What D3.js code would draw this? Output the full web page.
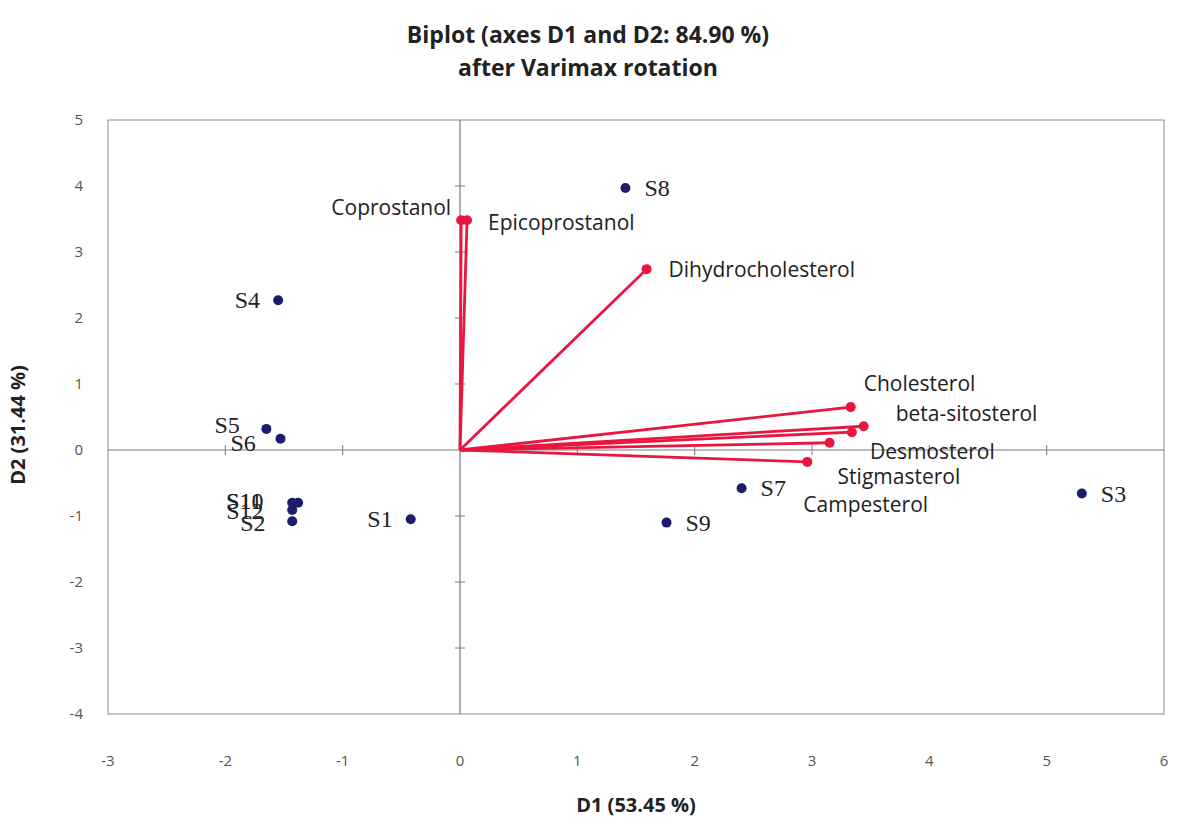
<!DOCTYPE html>
<html>
<head>
<meta charset="utf-8">
<script src="https://cdn.jsdelivr.net/npm/d3@7"></script>
<style>
  body { margin: 0; background: #fff; }
  svg { display: block; }
  .tick-label { font-family: "Open Sans", Lato, sans-serif; font-size: 15px; fill: #555; }
  .axis-title { font-family: "Open Sans", Lato, sans-serif; font-size: 20px; font-weight: bold; fill: #222; }
  .title { font-family: "Open Sans", Lato, sans-serif; font-size: 23px; font-weight: bold; fill: #222; }
  .obs-label { font-family: "Liberation Serif", serif; font-size: 24px; fill: #222; }
  .var-label { font-family: "Open Sans", Lato, sans-serif; font-size: 21px; fill: #222; }
</style>
</head>
<body>
<div id="chart"></div>
<script>
// observations (factor scores)
var obsNames = ["S1", "S2", "S3", "S4", "S5", "S6", "S7", "S8", "S9", "S10", "S11", "S12"];
var obsD1 = [-0.42, -1.43, 5.30, -1.55, -1.65, -1.53, 2.40, 1.41, 1.76, -1.43, -1.38, -1.43];
var obsD2 = [-1.05, -1.08, -0.66, 2.27, 0.32, 0.17, -0.58, 3.97, -1.10, -0.80, -0.80, -0.91];

// variables (loadings, scaled)
var varNames = ["Coprostanol", "Epicoprostanol", "Dihydrocholesterol", "Cholesterol",
                "beta-sitosterol", "Desmosterol", "Stigmasterol", "Campesterol"];
var varD1 = [0.01, 0.06, 1.59, 3.33, 3.44, 3.34, 3.15, 2.96];
var varD2 = [3.48, 3.48, 2.74, 0.65, 0.36, 0.27, 0.11, -0.18];

var xTicks = [-3, -2, -1, 0, 1, 2, 3, 4, 5, 6];
var yTicks = [-4, -3, -2, -1, 0, 1, 2, 3, 4, 5];

var width = 1181, height = 826;
var margin = {top: 120, right: 17, bottom: 112, left: 108};

var svg = d3.select("#chart").append("svg")
    .attr("width", width)
    .attr("height", height);

var x = d3.scaleLinear().domain([-3, 6]).range([margin.left, width - margin.right]);
var y = d3.scaleLinear().domain([-4, 5]).range([height - margin.bottom, margin.top]);

// title
svg.append("text").attr("class", "title")
    .attr("x", 588).attr("y", 43).attr("text-anchor", "middle")
    .text("Biplot (axes D1 and D2: 84.90 %)");
svg.append("text").attr("class", "title")
    .attr("x", 588).attr("y", 76).attr("text-anchor", "middle")
    .text("after Varimax rotation");

// plot frame
svg.append("rect")
    .attr("x", x(-3)).attr("y", y(5))
    .attr("width", x(6) - x(-3)).attr("height", y(-4) - y(5))
    .attr("fill", "none").attr("stroke", "#8c8c8c").attr("stroke-width", 1);

// zero lines
svg.append("line")
    .attr("x1", x(-3)).attr("x2", x(6)).attr("y1", y(0)).attr("y2", y(0))
    .attr("stroke", "#7a7a7a").attr("stroke-width", 1.2);
svg.append("line")
    .attr("x1", x(0)).attr("x2", x(0)).attr("y1", y(5)).attr("y2", y(-4))
    .attr("stroke", "#7a7a7a").attr("stroke-width", 1.2);

// little ticks on the zero lines
svg.append("g").selectAll("line")
    .data(xTicks.filter(function(d) { return d > -3 && d < 6 && d !== 0; }))
    .enter().append("line")
    .attr("x1", function(d) { return x(d); }).attr("x2", function(d) { return x(d); })
    .attr("y1", y(0) - 5).attr("y2", y(0) + 5)
    .attr("stroke", "#7a7a7a");
svg.append("g").selectAll("line")
    .data(yTicks.filter(function(d) { return d > -4 && d < 5 && d !== 0; }))
    .enter().append("line")
    .attr("x1", x(0) - 5).attr("x2", x(0) + 5)
    .attr("y1", function(d) { return y(d); }).attr("y2", function(d) { return y(d); })
    .attr("stroke", "#7a7a7a");

// tick labels
svg.append("g").selectAll("text")
    .data(xTicks).enter().append("text")
    .attr("class", "tick-label")
    .attr("x", function(d) { return x(d); })
    .attr("y", y(-4) + 52)
    .attr("text-anchor", "middle")
    .text(function(d) { return d; });
svg.append("g").selectAll("text")
    .data(yTicks).enter().append("text")
    .attr("class", "tick-label")
    .attr("x", 83)
    .attr("y", function(d) { return y(d) + 5; })
    .attr("text-anchor", "end")
    .text(function(d) { return d; });

// axis titles
svg.append("text").attr("class", "axis-title")
    .attr("x", (x(-3) + x(6)) / 2).attr("y", 812)
    .attr("text-anchor", "middle")
    .text("D1 (53.45 %)");
svg.append("text").attr("class", "axis-title")
    .attr("transform", "translate(25," + ((y(5) + y(-4)) / 2 + 8) + ") rotate(-90)")
    .attr("text-anchor", "middle")
    .text("D2 (31.44 %)");

// vectors
var vars = varNames.map(function(n, i) { return {name: n, d1: varD1[i], d2: varD2[i]}; });
var red = "#e8173f";

svg.append("g").selectAll("line")
    .data(vars).enter().append("line")
    .attr("x1", x(0)).attr("y1", y(0))
    .attr("x2", function(d) { return x(d.d1); })
    .attr("y2", function(d) { return y(d.d2); })
    .attr("stroke", red).attr("stroke-width", 2.8);
svg.append("g").selectAll("circle")
    .data(vars).enter().append("circle")
    .attr("cx", function(d) { return x(d.d1); })
    .attr("cy", function(d) { return y(d.d2); })
    .attr("r", 5)
    .attr("fill", red);

// label nudges (px) for the variable names
var varLabelPos = {
  "Coprostanol":        {dx: -10, dy: -5, anchor: "end"},
  "Epicoprostanol":     {dx: 21, dy: 10, anchor: "start"},
  "Dihydrocholesterol": {dx: 22, dy: 8, anchor: "start"},
  "Cholesterol":        {dx: 13, dy: -16, anchor: "start"},
  "beta-sitosterol":    {dx: 32, dy: -5, anchor: "start"},
  "Desmosterol":        {dx: 18, dy: 27, anchor: "start"},
  "Stigmasterol":       {dx: 8, dy: 41, anchor: "start"},
  "Campesterol":        {dx: -4, dy: 50, anchor: "start"}
};
svg.append("g").selectAll("text")
    .data(vars).enter().append("text")
    .attr("class", "var-label")
    .attr("x", function(d) { return x(d.d1) + varLabelPos[d.name].dx; })
    .attr("y", function(d) { return y(d.d2) + varLabelPos[d.name].dy; })
    .attr("text-anchor", function(d) { return varLabelPos[d.name].anchor; })
    .text(function(d) { return d.name; });

// observations
var obs = obsNames.map(function(n, i) { return {name: n, d1: obsD1[i], d2: obsD2[i]}; });
svg.append("g").selectAll("circle")
    .data(obs).enter().append("circle")
    .attr("cx", function(d) { return x(d.d1); })
    .attr("cy", function(d) { return y(d.d2); })
    .attr("r", 5)
    .attr("fill", "#1c1c6b");

// overlapping labels in the left cluster, placed by hand like the original
var obsLabelPos = {
  "S5": {dx: -52, dy: 4},
  "S6": {dx: -50, dy: 12},
  "S2": {dx: -52, dy: 10},
  "S10": {dx: -66, dy: 6},
  "S11": {dx: -72, dy: 6},
  "S12": {dx: -66, dy: 9}
};
svg.append("g").selectAll("text")
    .data(obs).enter().append("text")
    .attr("class", "obs-label")
    .attr("x", function(d) {
      if (obsLabelPos[d.name]) return x(d.d1) + obsLabelPos[d.name].dx;
      return d.d1 < 0 ? x(d.d1) - 18 : x(d.d1) + 19;
    })
    .attr("y", function(d) {
      if (obsLabelPos[d.name]) return y(d.d2) + obsLabelPos[d.name].dy;
      return y(d.d2) + 8;
    })
    .attr("text-anchor", function(d) {
      if (obsLabelPos[d.name]) return "start";
      return d.d1 < 0 ? "end" : "start";
    })
    .text(function(d) { return d.name; });
</script>
</body>
</html>
